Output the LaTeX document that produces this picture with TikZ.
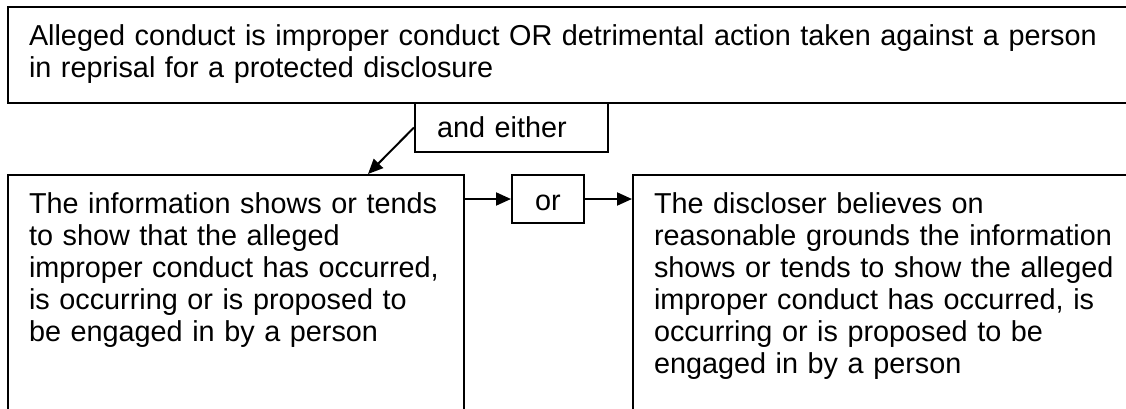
\documentclass[tikz,border=0pt]{standalone}
\usepackage{fontspec}
\setmainfont{Liberation Sans}
\usetikzlibrary{arrows.meta}

\tikzset{
  panel/.style={draw, line width=1pt, anchor=north west, align=left,
    inner xsep=10.5pt, inner ysep=8.5pt, text height=10.5pt,
    font=\fontsize{14.4}{16}\selectfont},
  tag/.style={draw, line width=1pt, anchor=north west,
    inner sep=0pt, font=\fontsize{14.4}{16}\selectfont},
  arr/.style={-{Triangle[length=7.5pt,width=6.5pt]}, line width=1pt}
}

\begin{document}
\begin{tikzpicture}[x=0.5pt,y=-0.5pt]
  \useasboundingbox (0,0) rectangle (1126,408);
  \clip (0,0) rectangle (1126,408);

  % claim at the top, runs off the right edge
  \node[panel, text width=545pt, text depth=20.5pt] (claim) at (7,6)
    {Alleged conduct is improper conduct OR detrimental action taken against a person\\
     in reprisal for a protected disclosure};

  \node[tag, minimum width=96.5pt, minimum height=24.5pt, align=left,
        text width=74.5pt, inner xsep=11pt] (either) at (414,102) {and either};

  % the two alternatives
  \node[panel, text width=207pt, text depth=150pt] (info) at (7,174)
    {The information shows or tends\\
     to show that the alleged\\
     improper conduct has occurred,\\
     is occurring or is proposed to\\
     be engaged in by a person};

  \node[tag, minimum width=36pt, minimum height=24pt, text height=11.5pt] (or) at (511,174) {or};

  \node[panel, text width=240pt, text depth=150pt] (belief) at (632,174)
    {The discloser believes on\\
     reasonable grounds the information\\
     shows or tends to show the alleged\\
     improper conduct has occurred, is\\
     occurring or is proposed to be\\
     engaged in by a person};

  \coordinate (land) at (368,174);

  \draw[arr] (either.west) -- (land);
  \draw[arr] (info.east |- or.west) -- (or.west);
  \draw[arr] (or.east) -- (belief.west |- or.east);
\end{tikzpicture}
\end{document}
